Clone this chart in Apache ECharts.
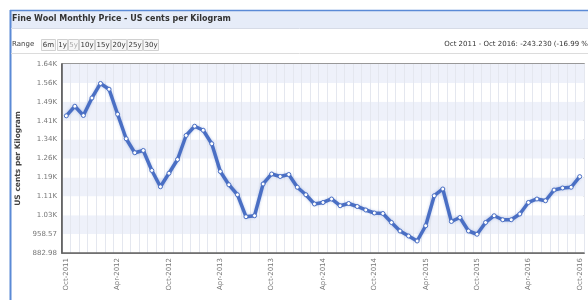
<!DOCTYPE html>
<html>
<head>
<meta charset="utf-8">
<script src="https://cdn.jsdelivr.net/npm/echarts@6/dist/echarts.min.js"></script>
<style>
  html, body { margin: 0; padding: 0; background: #fff; }
  #main { width: 588px; height: 300px; }
</style>
</head>
<body>
<div id="main"></div>
<script>
var myChart = echarts.init(document.getElementById('main'));

// months Oct-2011 .. Oct-2016
var months = [];
var monthNames = ['Jan','Feb','Mar','Apr','May','Jun','Jul','Aug','Sep','Oct','Nov','Dec'];
for (var i = 0; i < 61; i++) {
    var m = (9 + i) % 12, y = 2011 + Math.floor((9 + i) / 12);
    months.push(monthNames[m] + '-' + y);
}

// price, US cents per kg
var prices = [
    1431.6, 1470, 1433, 1503, 1561, 1538, 1438, 1340, 1284, 1293,
    1213, 1148, 1202, 1257, 1353, 1390, 1374, 1320, 1209, 1156,
    1116, 1028, 1032, 1159, 1199, 1189, 1197, 1146, 1116, 1079,
    1085, 1099, 1072, 1081, 1069, 1055, 1043, 1041, 1005, 971,
    951, 931, 992, 1112, 1139, 1009, 1025, 971, 958, 1005,
    1032, 1016, 1016, 1039, 1085, 1099, 1092, 1135, 1143, 1146,
    1188.4
];

var rangeButtons = ['6m', '1y', '5y', '10y', '15y', '20y', '25y', '30y'];
var buttonX = [41, 57, 68, 79, 95, 111, 127, 143];
var buttonW = [14, 10, 10, 15, 15, 15, 15, 15];

var yMin = 882.98, yStep = 75.59;

var graphics = [
    // panel frame
    { type: 'rect', shape: { x: 10, y: 11, width: 590, height: 17 }, style: { fill: '#e6ecf8' }, z: 0 },
    { type: 'line', shape: { x1: 10, y1: 10.5, x2: 588, y2: 10.5 }, style: { stroke: '#5b8ad6', lineWidth: 1.5 } },
    { type: 'line', shape: { x1: 10.5, y1: 10, x2: 10.5, y2: 300 }, style: { stroke: '#5b8ad6', lineWidth: 2 } },
    { type: 'line', shape: { x1: 11, y1: 28.5, x2: 588, y2: 28.5 }, style: { stroke: '#d6dbe6', lineWidth: 1 } },
    { type: 'line', shape: { x1: 11, y1: 53.5, x2: 588, y2: 53.5 }, style: { stroke: '#dcdcdc', lineWidth: 1 } },
    { type: 'text', left: 12, top: 15, style: { text: 'Fine Wool Monthly Price - US cents per Kilogram', font: 'bold 8px "DejaVu Sans"', fill: '#333' } },
    { type: 'text', left: 12, top: 41, style: { text: 'Range', font: '7px "DejaVu Sans"', fill: '#444' } },
    { type: 'text', right: 0, top: 41, style: { text: 'Oct 2011 - Oct 2016: -243.230 (-16.99 %', font: '7px "DejaVu Sans"', fill: '#333' } }
];
rangeButtons.forEach(function (b, i) {
    graphics.push({ type: 'rect', shape: { x: buttonX[i] + 0.5, y: 39.5, width: buttonW[i], height: 11 },
        style: { fill: '#f7f7f7', stroke: '#d0d0d0', lineWidth: 1 } });
    graphics.push({ type: 'text', x: buttonX[i] + 0.5 + buttonW[i] / 2, y: 45,
        style: { text: b, font: '7px "DejaVu Sans"', fill: b === '5y' ? '#aaa' : '#333', align: 'center', verticalAlign: 'middle' } });
});

option = {
    animation: false,
    graphic: graphics,
    grid: { left: 62, right: 4, top: 64, bottom: 47, show: true, borderColor: '#777', borderWidth: 1.5, backgroundColor: 'transparent' },
    xAxis: {
        type: 'category',
        data: months,
        boundaryGap: true,
        axisLine: { lineStyle: { color: '#666', width: 1.5 } },
        axisTick: { show: false },
        axisLabel: {
            interval: 5,
            rotate: 90,
            fontSize: 7,
            color: '#777',
            margin: 5,
            fontFamily: 'DejaVu Sans'
        },
        splitLine: { show: true, interval: 0, lineStyle: { color: '#e4e7ef', width: 1 } }
    },
    yAxis: {
        type: 'value',
        min: yMin,
        max: yMin + 10 * yStep,
        interval: yStep,
        name: 'US cents per Kilogram',
        nameLocation: 'middle',
        nameGap: 36,
        nameTextStyle: { fontSize: 7.5, fontWeight: 'bold', color: '#444', fontFamily: 'DejaVu Sans' },
        axisLine: { show: true, lineStyle: { color: '#555', width: 1.5 } },
        axisTick: { show: false },
        axisLabel: {
            fontSize: 7,
            color: '#777',
            margin: 5,
            fontFamily: 'DejaVu Sans',
            formatter: function (v) {
                return v < 1000 ? v.toFixed(2) : (v / 1000).toFixed(2) + 'K';
            }
        },
        splitLine: { show: false },
        splitArea: { show: true, areaStyle: { color: ['#ffffff', '#eef1fa'] } }
    },
    series: [{
        type: 'line',
        data: prices,
        symbol: 'circle',
        symbolSize: 4,
        lineStyle: { color: '#4a6fc4', width: 3.5, shadowColor: 'rgba(74,111,196,0.35)', shadowBlur: 3 },
        itemStyle: { color: '#ffffff', borderColor: '#4a6fc4', borderWidth: 1 },
        z: 3
    }]
};

myChart.setOption(option);
</script>
</body>
</html>
